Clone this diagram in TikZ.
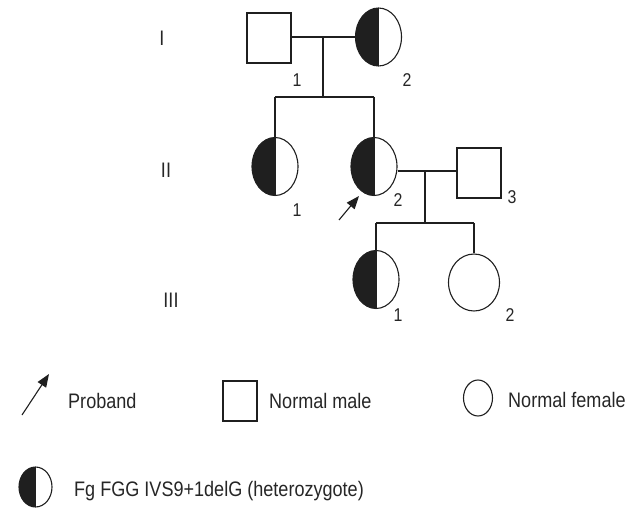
\documentclass[tikz,border=0pt]{standalone}
\usepackage{fontspec}
\setmainfont{Liberation Sans}[FakeStretch=0.86]
\usetikzlibrary{shapes.geometric,arrows.meta}
\tikzset{
  line/.style={draw=black!88, line width=1.1pt},
  male/.style={line, rectangle, minimum width=44pt, minimum height=50pt, inner sep=0pt},
  female/.style={line, ellipse, minimum width=46pt, minimum height=58pt, inner sep=0pt},
  carrier/.style={female, path picture={
      \fill[black!88] (path picture bounding box.north west) rectangle (path picture bounding box.south);
      \draw[line] (path picture bounding box.north) -- (path picture bounding box.south);}},
  num/.style={inner sep=0pt, text=black!85, font=\fontsize{18.5}{20}\selectfont},
  gen/.style={inner sep=0pt, text=black!85, font=\fontsize{21}{23}\selectfont},
  legtext/.style={inner sep=0pt, anchor=west, text=black!85, font=\fontsize{21}{23}\selectfont},
  probarrow/.style={line, -{Triangle[length=13pt,width=10pt]}},
}
\begin{document}
\begin{tikzpicture}[x=1pt,y=-1pt]
\useasboundingbox (0,0) rectangle (629,508);

% generation numerals
\node[gen] (gI)   at (162,38)  {I};
\node[gen] (gII)  at (166,170) {II};
\node[gen] (gIII) at (171,300) {III};

% generation I
\node[male]    (i1) at (269,38)    {};
\node[carrier] (i2) at (378.5,37)  {};
\coordinate (m1) at (323,37);
\coordinate (s1) at (323,97);
\coordinate (s1l) at (275,97);
\coordinate (s1r) at (374,97);
\draw[line] (i1.east |- m1) -- (i2.west |- m1);
\draw[line] (m1) -- (s1);
\draw[line] (s1l) -- (s1r);

% generation II
\node[carrier] (ii1) at (275,166.5) {};
\node[carrier] (ii2) at (374,166.5) {};
\node[male]    (ii3) at (479,173)   {};
\draw[line] (s1l) -- (ii1.north);
\draw[line] (s1r) -- (ii2.north);
\coordinate (m2) at (425,171);
\coordinate (s2) at (425,223);
\coordinate (s2l) at (376,223);
\coordinate (s2r) at (474,223);
\draw[line] (ii2.east |- m2) -- (ii3.west |- m2);
\draw[line] (m2) -- (s2);
\draw[line] (s2l) -- (s2r);

% generation III
\node[carrier] (iii1) at (376,279.5) {};
\node[female, minimum width=51pt, minimum height=57pt] (iii2) at (474,282.5) {};
\draw[line] (s2l) -- (iii1.north);
\draw[line] (s2r) -- (iii2.north);

% individual numbers
\node[num] (n11)  at (297,80)  {1};
\node[num] (n12)  at (407,80)  {2};
\node[num] (n21)  at (297,210) {1};
\node[num] (n22)  at (398,200) {2};
\node[num] (n23)  at (512,197) {3};
\node[num] (n31)  at (398,315) {1};
\node[num] (n32)  at (510,315) {2};

% proband marker
\coordinate (pa) at (339,220);
\coordinate (pb) at (359,196);
\draw[probarrow] (pa) -- (pb);

% legend
\coordinate (la) at (22,415);
\coordinate (lb) at (49,374);
\draw[probarrow] (la) -- (lb);
\node[legtext] (tprob) at (68,401) {Proband};
\node[male, minimum width=34pt, minimum height=40pt] (lmale) at (240,401) {};
\node[legtext] (tmale) at (269,401) {Normal male};
\node[female, minimum width=29pt, minimum height=36pt] (lfem) at (478,398) {};
\node[legtext] (tfem) at (508,400) {Normal female};
\node[carrier, minimum width=33pt, minimum height=40pt] (lhet) at (35.5,487) {};
\node[legtext] (thet) at (74,491) {Fg FGG IVS9+1delG (heterozygote)};
\end{tikzpicture}
\end{document}
